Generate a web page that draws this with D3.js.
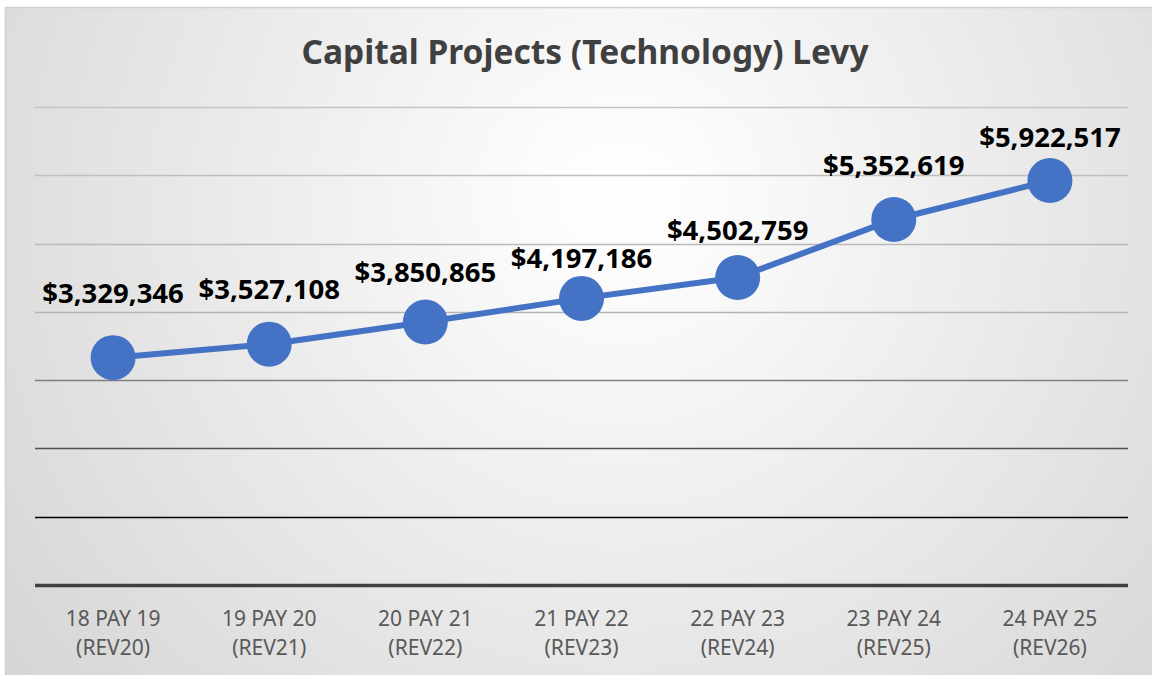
<body style="margin:0;background:#fff">
<svg></svg>
<script src="https://d3js.org/d3.v7.min.js"></script>
<script>

var categories = ["18 PAY 19|(REV20)", "19 PAY 20|(REV21)", "20 PAY 21|(REV22)", "21 PAY 22|(REV23)",
                  "22 PAY 23|(REV24)", "23 PAY 24|(REV25)", "24 PAY 25|(REV26)"];
var levy = [3329346, 3527108, 3850865, 4197186, 4502759, 5352619, 5922517];
var gridTicks = [0, 1000000, 2000000, 3000000, 4000000, 5000000, 6000000, 7000000];
var title = "Capital Projects (Technology) Levy";

// label nudges (px above the marker centre), as placed in the original
var labelDy = [55, 45, 40, 30, 38, 44, 34];

var width = 1152, height = 675;
var plotLeft = 35, plotRight = 1128, plotTop = 107, plotBottom = 585;

const svg = d3.select("svg")
    .attr("width", width)
    .attr("height", height)
    .style("display", "block");

var grad = svg.append("defs").append("radialGradient")
    .attr("id", "bg")
    .attr("gradientUnits", "userSpaceOnUse")
    .attr("cx", 620).attr("cy", 200).attr("r", 760);
grad.append("stop").attr("offset", "0%").attr("stop-color", "#ffffff");
grad.append("stop").attr("offset", "10%").attr("stop-color", "#fcfcfc");
grad.append("stop").attr("offset", "100%").attr("stop-color", "#d6d6d6");

svg.append("rect")
    .attr("x", 5.5).attr("y", 7.5)
    .attr("width", 1152).attr("height", 680)
    .attr("fill", "url(#bg)")
    .attr("stroke", "#d0d0d0")
    .attr("stroke-width", 1.5);

var x = d3.scalePoint()
    .domain(categories)
    .range([plotLeft, plotRight])
    .padding(0.5);

var y = d3.scaleLinear()
    .domain([0, 7000000])
    .range([plotBottom, plotTop]);

var gridColor = d3.scaleLinear()
    .domain([0, 1000000, 2000000, 3000000, 4000000, 7000000])
    .range(["#404040", "#000000", "#505050", "#808080", "#b4b4b4", "#c4c4c4"]);

svg.append("g")
    .selectAll("line")
    .data(gridTicks)
    .join("line")
        .attr("x1", plotLeft).attr("x2", plotRight)
        .attr("y1", d => Math.round(y(d)) + 0.5)
        .attr("y2", d => Math.round(y(d)) + 0.5)
        .attr("stroke", d => gridColor(d))
        .attr("stroke-width", d => d === 0 ? 3.5 : 1.6);

// category labels, two lines each
[0, 1].forEach(function(row) {
    svg.append("g").selectAll("text")
        .data(categories)
        .join("text")
            .attr("x", d => x(d))
            .attr("y", 626 + row * 29)
            .attr("text-anchor", "middle")
            .attr("font-family", "'Noto Sans', sans-serif")
            .attr("font-size", 21)
            .attr("fill", "#595959")
            .text(d => d.split("|")[row]);
});

var line = d3.line()
    .x((d, i) => x(categories[i]))
    .y(d => y(d));

svg.append("path")
    .datum(levy)
    .attr("d", line)
    .attr("fill", "none")
    .attr("stroke", "#4472c4")
    .attr("stroke-width", 6);

svg.append("g")
    .selectAll("circle")
    .data(levy)
    .join("circle")
        .attr("cx", (d, i) => x(categories[i]))
        .attr("cy", d => y(d))
        .attr("r", 22.5)
        .attr("fill", "#4472c4");

var fmt = d3.format("$,");
svg.append("g")
    .selectAll("text")
    .data(levy)
    .join("text")
        .attr("x", (d, i) => x(categories[i]))
        .attr("y", (d, i) => y(d) - labelDy[i])
        .attr("text-anchor", "middle")
        .attr("font-family", "'Noto Sans', sans-serif")
        .attr("font-weight", "bold")
        .attr("font-size", 27.5)
        .attr("fill", "#000")
        .text(d => fmt(d));

svg.append("text")
    .attr("x", 585)
    .attr("y", 64)
    .attr("text-anchor", "middle")
    .attr("font-family", "'Noto Sans', sans-serif")
    .attr("font-weight", "bold")
    .attr("font-size", 33.5)
    .attr("fill", "#404040")
    .text(title);

</script>
</body>
